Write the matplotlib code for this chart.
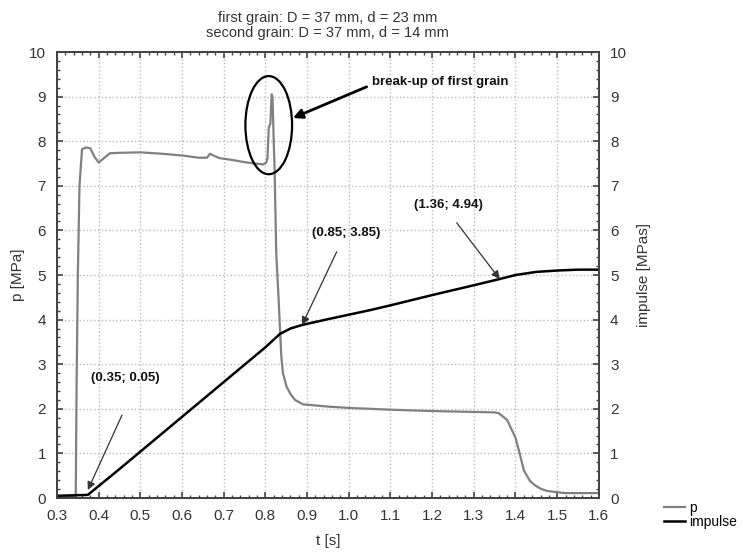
import matplotlib
matplotlib.use('Agg')
import matplotlib.pyplot as plt
from matplotlib.patches import Ellipse
from matplotlib.lines import Line2D
from matplotlib.ticker import MultipleLocator

plt.rcParams['font.family'] = ['Liberation Sans', 'DejaVu Sans']

# pressure p [MPa] vs t [s]
t_p = [0.30, 0.345, 0.347, 0.350, 0.354, 0.360, 0.37, 0.38, 0.39, 0.40, 0.41, 0.427,
       0.45, 0.50, 0.55, 0.60, 0.64, 0.66, 0.667, 0.675, 0.69, 0.72, 0.75, 0.775, 0.795,
       0.802, 0.805, 0.808, 0.812, 0.815, 0.817, 0.82, 0.822, 0.826, 0.832, 0.838, 0.842,
       0.851, 0.861, 0.871, 0.89, 0.95, 1.0, 1.1, 1.2, 1.3, 1.35, 1.36, 1.38, 1.40, 1.41,
       1.42, 1.435, 1.446, 1.46, 1.475, 1.50, 1.52, 1.60]
p = [0.03, 0.03, 2.5, 5.0, 7.0, 7.82, 7.86, 7.84, 7.65, 7.52, 7.60, 7.73,
     7.74, 7.75, 7.72, 7.68, 7.63, 7.63, 7.72, 7.68, 7.62, 7.58, 7.53, 7.50, 7.48,
     7.52, 7.62, 8.30, 8.40, 9.05, 9.00, 8.00, 7.40, 5.50, 4.40, 3.20, 2.80,
     2.49, 2.32, 2.20, 2.10, 2.05, 2.02, 1.98, 1.95, 1.93, 1.92, 1.90, 1.75, 1.35, 1.00,
     0.62, 0.38, 0.29, 0.21, 0.16, 0.13, 0.11, 0.11]

# impulse [MPas] vs t [s]
t_imp = [0.30, 0.374, 0.45, 0.50, 0.60, 0.70, 0.80, 0.835, 0.86, 0.888, 0.95, 1.0,
         1.05, 1.1, 1.2, 1.3, 1.362, 1.4, 1.45, 1.5, 1.55, 1.6]
imp = [0.05, 0.07, 0.65, 1.04, 1.82, 2.60, 3.38, 3.68, 3.80, 3.88, 4.01, 4.11,
       4.21, 4.32, 4.55, 4.77, 4.91, 5.00, 5.07, 5.10, 5.12, 5.12]

# annotated points: (label, text pos, arrow tail, arrow tip)
notes = [
    ('(0.35; 0.05)', (0.465, 2.69), (0.456, 1.86), (0.374, 0.18)),
    ('(0.85; 3.85)', (0.993, 5.94), (0.971, 5.52), (0.888, 3.88)),
    ('(1.36; 4.94)', (1.238, 6.57), (1.259, 6.17), (1.362, 4.91)),
]

fig = plt.figure(figsize=(7.43, 5.58), dpi=100)
ax = fig.add_axes([0.0767, 0.1075, 0.7293, 0.7993])
ax2 = ax.twinx()

gray = '#808080'
ax.plot(t_p, p, color=gray, lw=1.6)
ax2.plot(t_imp, imp, color='black', lw=1.8)

for a in (ax, ax2):
    a.set_xlim(0.3, 1.6)
    a.set_ylim(0, 10)
    a.yaxis.set_major_locator(MultipleLocator(1))
    a.yaxis.set_minor_locator(MultipleLocator(0.2))
    for s in a.spines.values():
        s.set_color('#444444')
        s.set_linewidth(1.4)
    a.tick_params(which='both', direction='in', colors='#444444',
                  labelcolor='#333333', labelsize=11, pad=8)
    a.tick_params(which='major', length=4, width=1.2)
    a.tick_params(which='minor', length=2.5, width=1)

ax.xaxis.set_major_locator(MultipleLocator(0.1))
ax.xaxis.set_minor_locator(MultipleLocator(0.02))
ax.tick_params(which='both', top=True)
ax.set_xticks([0.3 + 0.1 * i for i in range(14)])
ax.set_xticklabels(['%.1f' % (0.3 + 0.1 * i) for i in range(14)])
ax.grid(True, which='major', linestyle=':', color='#bbbbbb', lw=1)

ax.set_xlabel('t [s]', fontsize=11, color='#333333', labelpad=8)
ax.set_ylabel('p [MPa]', fontsize=11, color='#333333', labelpad=3)
ax2.set_ylabel('impulse [MPas]', fontsize=11, color='#333333', labelpad=7)

ax.set_title('first grain: D = 37 mm, d = 23 mm\nsecond grain: D = 37 mm, d = 14 mm',
             fontsize=10.5, color='#333333', pad=11, linespacing=1.1)

# break-up marker
ax2.add_patch(Ellipse((0.808, 8.36), 0.112, 2.2, fill=False, ec='black', lw=1.6))
ax2.annotate('', xy=(0.866, 8.52), xytext=(1.043, 9.22),
             arrowprops=dict(arrowstyle='-|>', color='black', lw=2,
                             mutation_scale=14, shrinkA=0, shrinkB=0))
ax2.text(1.055, 9.33, 'break-up of first grain', fontsize=9.5, fontweight='bold',
         va='center', ha='left', color='#111111')

for label, tpos, tail, tip in notes:
    ax2.text(tpos[0], tpos[1], label, fontsize=9.5, fontweight='bold',
             ha='center', va='center', color='#111111')
    ax2.annotate('', xy=tip, xytext=tail,
                 arrowprops=dict(arrowstyle='-|>', color='#333333', lw=0.9,
                                 mutation_scale=12, shrinkA=0, shrinkB=0))

handles = [Line2D([], [], color=gray, lw=1.6), Line2D([], [], color='black', lw=1.8)]
fig.legend(handles, ['p', 'impulse'], loc='lower left', bbox_to_anchor=(0.885, 0.04),
           frameon=False, fontsize=10, handlelength=1.5, handletextpad=0.3,
           labelspacing=0.0, borderpad=0)

fig.savefig('out.png', dpi=100)
